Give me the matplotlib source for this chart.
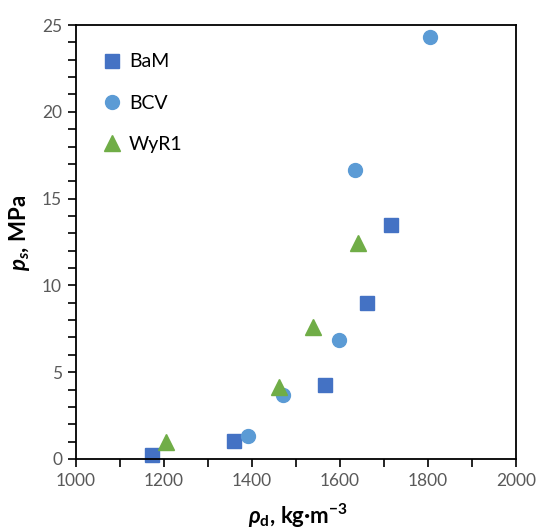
import matplotlib
matplotlib.use("Agg")
import matplotlib.pyplot as plt
from matplotlib.ticker import MultipleLocator

plt.rcParams['font.family'] = ['Lato', 'DejaVu Sans']
plt.rcParams['mathtext.fontset'] = 'custom'
plt.rcParams['mathtext.it'] = 'Lato:italic:bold'
plt.rcParams['mathtext.rm'] = 'Lato:bold'
plt.rcParams['mathtext.bf'] = 'Lato:bold'

bam_x = [1172, 1358, 1567, 1661, 1715]
bam_y = [0.23, 1.04, 4.26, 9.0, 13.5]
bcv_x = [1392, 1471, 1597, 1633, 1804]
bcv_y = [1.32, 3.69, 6.85, 16.65, 24.3]
wyr_x = [1205, 1462, 1538, 1640]
wyr_y = [1.0, 4.15, 7.6, 12.45]

fig = plt.figure(figsize=(5.4, 5.31), dpi=100)
ax = fig.add_axes([0.1407, 0.1356, 0.8149, 0.8173])

ax.plot(bam_x, bam_y, linestyle='none', marker='s', markersize=10, color='#4472C4', label='BaM', clip_on=False)
ax.plot(bcv_x, bcv_y, linestyle='none', marker='o', markersize=10, color='#5B9BD5', label='BCV', clip_on=False)
ax.plot(wyr_x, wyr_y, linestyle='none', marker='^', markersize=11, color='#70AD47', label='WyR1', clip_on=False)

ax.set_xlim(1000, 2000)
ax.set_ylim(0, 25)
ax.xaxis.set_major_locator(MultipleLocator(200))
ax.xaxis.set_minor_locator(MultipleLocator(100))
ax.yaxis.set_major_locator(MultipleLocator(5))
ax.yaxis.set_minor_locator(MultipleLocator(1))
ax.tick_params(which='both', direction='out', length=6, width=1.2, color='black',
               labelcolor='#595959', labelsize=12.5, pad=4)
for s in ax.spines.values():
    s.set_linewidth(1.3)
    s.set_color('black')

ax.set_xlabel(r'$\rho_{\mathrm{d}}$, kg·m$^{\mathrm{-3}}$', fontsize=16, fontweight='bold')
ax.set_ylabel(r'$p_s$, MPa', fontsize=16, fontweight='bold')
ax.xaxis.set_label_coords(0.505, -0.098)
ax.yaxis.set_label_coords(-0.099, 0.52)

ax.legend(loc='upper left', bbox_to_anchor=(0.025, 0.975), frameon=False, fontsize=14,
          handlelength=0.8, handletextpad=0.45, labelspacing=1.25, markerscale=1.0)

fig.savefig('out.png', dpi=100)
